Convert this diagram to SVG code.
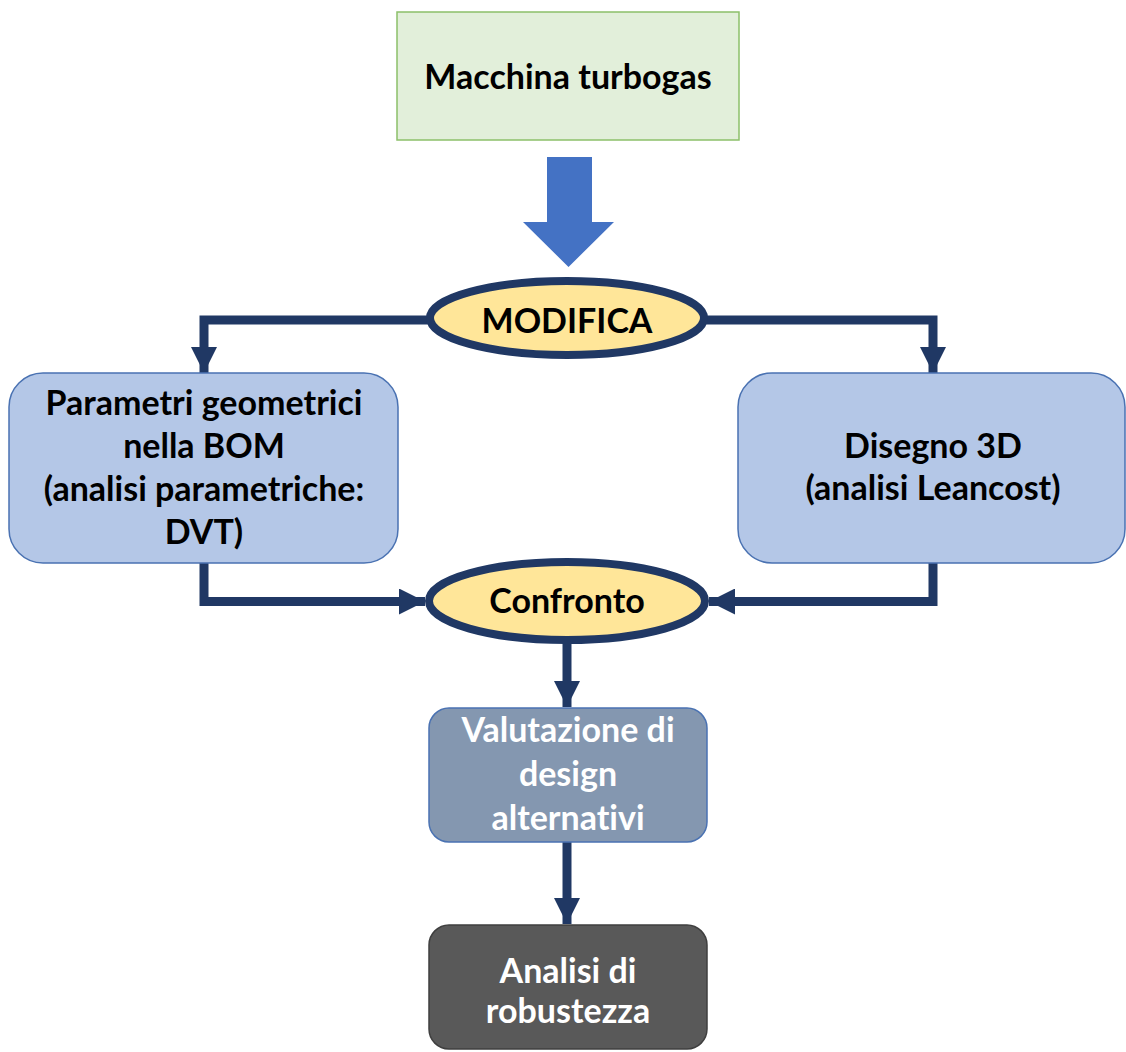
<svg xmlns="http://www.w3.org/2000/svg" width="1126" height="1052" viewBox="0 0 1126 1052">
  <style>
    .lbl { font-family: Lato, "Liberation Sans", sans-serif; font-weight: 700; font-size: 34px; text-anchor: middle; font-variant-ligatures: none; }
    .dark { fill: #000000; }
    .light { fill: #ffffff; }
    .box { stroke: #4a72b2; stroke-width: 1.5; }
    .oval { fill: #ffe699; stroke: #203864; stroke-width: 8; }
    .wire { fill: none; stroke: #203864; stroke-width: 9; stroke-linejoin: miter; }
  </style>
  <defs>
    <marker id="head" markerUnits="userSpaceOnUse" markerWidth="26" markerHeight="26" refX="26" refY="13" orient="auto">
      <path d="M0,0 L26,13 L0,26 Z" fill="#203864"/>
    </marker>
  </defs>

  <rect width="1126" height="1052" fill="#ffffff"/>

  <!-- connectors -->
  <g id="connectors">
    <polygon points="547,157 592,157 592,222 614,222 568.5,267 523,222 547,222" fill="#4472c4"/>
    <path class="wire" d="M430,320 H204 V373" marker-end="url(#head)"/>
    <path class="wire" d="M705,320 H933 V373" marker-end="url(#head)"/>
    <path class="wire" d="M204,563 V601.5 H425" marker-end="url(#head)"/>
    <path class="wire" d="M933,563 V601.5 H709" marker-end="url(#head)"/>
    <path class="wire" d="M567,640 V707" marker-end="url(#head)"/>
    <path class="wire" d="M567,842 V924" marker-end="url(#head)"/>
  </g>

  <g id="node-turbogas">
    <rect x="397" y="12" width="342" height="128" fill="#e2efda" stroke="#8cc06a" stroke-width="1.5"/>
    <text class="lbl dark" x="568" y="89">Macchina turbogas</text>
  </g>

  <g id="node-modifica">
    <ellipse class="oval" cx="567" cy="318" rx="137" ry="37"/>
    <text class="lbl dark" x="567" y="333">MODIFICA</text>
  </g>

  <g id="node-parametri">
    <rect class="box" x="9" y="373" width="389" height="190" rx="34" fill="#b4c7e7"/>
    <text class="lbl dark" x="204" y="415">Parametri geometrici</text>
    <text class="lbl dark" x="204" y="458">nella BOM</text>
    <text class="lbl dark" x="204" y="501">(analisi parametriche:</text>
    <text class="lbl dark" x="204" y="544">DVT)</text>
  </g>

  <g id="node-disegno">
    <rect class="box" x="738" y="373" width="387" height="190" rx="34" fill="#b4c7e7"/>
    <text class="lbl dark" x="933" y="458">Disegno 3D</text>
    <text class="lbl dark" x="933" y="500">(analisi Leancost)</text>
  </g>

  <g id="node-confronto">
    <ellipse class="oval" cx="567" cy="601" rx="138" ry="39"/>
    <text class="lbl dark" x="567" y="613">Confronto</text>
  </g>

  <g id="node-valutazione">
    <rect class="box" x="429" y="708" width="278" height="134" rx="20" fill="#8497b0"/>
    <text class="lbl light" x="568" y="742">Valutazione di</text>
    <text class="lbl light" x="568" y="786">design</text>
    <text class="lbl light" x="568" y="830">alternativi</text>
  </g>

  <g id="node-robustezza">
    <rect x="429" y="925" width="278" height="124" rx="20" fill="#595959" stroke="#3f3f3f" stroke-width="1.5"/>
    <text class="lbl light" x="568" y="983">Analisi di</text>
    <text class="lbl light" x="568" y="1023">robustezza</text>
  </g>
</svg>
